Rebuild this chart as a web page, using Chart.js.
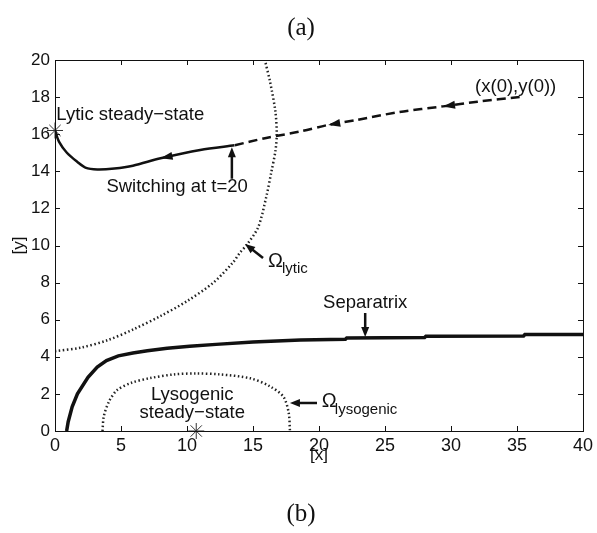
<!DOCTYPE html>
<html>
<head>
<meta charset="utf-8">
<script src="https://cdn.jsdelivr.net/npm/chart.js@4.4.0/dist/chart.umd.min.js"></script>
<style>
  html, body { margin: 0; padding: 0; background: #fff; }
</style>
</head>
<body>
<canvas id="phaseChart" width="597" height="533"></canvas>
<script>
// trajectory: dashed before the switch, solid after it
const trajDashX = [35.2, 32, 29.4, 26.1, 22.9, 20.7, 18.6, 16, 13.6];
const trajDashY = [18.0, 17.75, 17.5, 17.2, 16.77, 16.5, 16.15, 15.8, 15.4];
const trajSolidX = [13.6, 11, 8, 5.9, 4.5, 3.2, 2.3, 1.7, 0.9, 0.3, 0];
const trajSolidY = [15.4, 15.15, 14.7, 14.3, 14.15, 14.1, 14.2, 14.5, 15.0, 15.6, 16.2];

// separatrix (with the small steps at the right)
const sepX = [0.88, 1.0, 1.3, 1.7, 2.5, 3.2, 3.9, 4.8, 5.9, 7.0, 8.5, 10.2, 12.2, 15.0, 18.6, 22.0, 22.1, 28.0, 28.1, 35.5, 35.6, 40];
const sepY = [0, 0.5, 1.3, 2.0, 2.9, 3.45, 3.8, 4.05, 4.2, 4.33, 4.46, 4.57, 4.67, 4.8, 4.9, 4.95, 5.02, 5.04, 5.11, 5.12, 5.2, 5.2];

// basin boundaries
const omegaLyticX = [0, 2, 4, 6, 8, 10, 12, 13.5, 14.0, 14.6, 15.4, 16.0, 16.4, 16.7, 16.8, 16.7, 16.3, 15.9];
const omegaLyticY = [4.3, 4.5, 4.9, 5.5, 6.2, 7.0, 8.0, 9.1, 9.6, 10.1, 11.0, 12.6, 14.0, 15.1, 16.0, 17.2, 18.8, 20];
const omegaLysoX = [3.6, 3.7, 4.1, 4.7, 5.8, 7.2, 9.0, 10.7, 12.5, 14.8, 16.3, 17.3, 17.7, 17.8];
const omegaLysoY = [0, 0.8, 1.6, 2.2, 2.6, 2.85, 3.05, 3.1, 3.05, 2.84, 2.4, 1.85, 1.0, 0];

// steady states
const lyticSS = [0, 16.2];
const lysoSS = [10.7, 0];

// direction markers along the trajectory
const arrowAtX = [29.4, 20.7, 8.0];

const xTicks = [0, 5, 10, 15, 20, 25, 30, 35, 40];
const yTicks = [0, 2, 4, 6, 8, 10, 12, 14, 16, 18, 20];

const sans = '"Liberation Sans", Arial, sans-serif';
const serif = '"Liberation Serif", "DejaVu Serif", serif';

const toPoints = (xs, ys) => xs.map((x, i) => ({ x: x, y: ys[i] }));

// linear lookup of y along a path
const yOnPath = (xs, ys, x) => {
  for (let i = 0; i < xs.length - 1; i++) {
    const a = xs[i], b = xs[i + 1];
    if ((x <= a && x >= b) || (x >= a && x <= b)) {
      const t = (x - a) / (b - a);
      return ys[i] + t * (ys[i + 1] - ys[i]);
    }
  }
  return ys[ys.length - 1];
};

const drawHead = (ctx, x, y, ang, len, half) => {
  const c = Math.cos(ang), s = Math.sin(ang);
  ctx.beginPath();
  ctx.moveTo(x, y);
  ctx.lineTo(x - len * c + half * s, y - len * s - half * c);
  ctx.lineTo(x - len * c - half * s, y - len * s + half * c);
  ctx.closePath();
  ctx.fill();
};

const drawArrow = (ctx, x1, y1, x2, y2) => {
  const ang = Math.atan2(y2 - y1, x2 - x1);
  ctx.beginPath();
  ctx.moveTo(x1, y1);
  ctx.lineTo(x2 - 5 * Math.cos(ang), y2 - 5 * Math.sin(ang));
  ctx.stroke();
  drawHead(ctx, x2, y2, ang, 10, 4);
};

const annotations = {
  id: 'annotations',
  afterDatasetsDraw(chart) {
    const { ctx, chartArea: area, scales } = chart;
    const px = v => scales.x.getPixelForValue(v);
    const py = v => scales.y.getPixelForValue(v);
    ctx.save();
    ctx.fillStyle = '#111';
    ctx.strokeStyle = '#111';

    // frame and inward ticks
    ctx.lineWidth = 1;
    ctx.strokeRect(area.left + 0.5, area.top + 0.5, area.right - area.left, area.bottom - area.top);
    ctx.beginPath();
    xTicks.forEach(t => {
      const x = Math.round(px(t)) + 0.5;
      ctx.moveTo(x, area.bottom); ctx.lineTo(x, area.bottom - 5);
      ctx.moveTo(x, area.top); ctx.lineTo(x, area.top + 5);
    });
    yTicks.forEach(t => {
      const y = Math.round(py(t)) + 0.5;
      ctx.moveTo(area.left, y); ctx.lineTo(area.left + 5, y);
      ctx.moveTo(area.right, y); ctx.lineTo(area.right - 5, y);
    });
    ctx.stroke();

    // arrowheads on the trajectory
    arrowAtX.forEach(x => {
      const onDash = x > trajSolidX[0];
      const xs = onDash ? trajDashX : trajSolidX;
      const ys = onDash ? trajDashY : trajSolidY;
      const x0 = x + 0.6;
      const ang = Math.atan2(py(yOnPath(xs, ys, x)) - py(yOnPath(xs, ys, x0)), px(x) - px(x0));
      drawHead(ctx, px(x), py(yOnPath(xs, ys, x)), ang, 12, 4);
    });

    // pointer arrows
    ctx.lineWidth = 2.5;
    drawArrow(ctx, px(13.4), py(13.6), px(13.4), py(15.3));
    drawArrow(ctx, px(15.76), py(9.33), px(14.4), py(10.08));
    drawArrow(ctx, px(23.5), py(6.36), px(23.5), py(5.07));
    drawArrow(ctx, px(19.85), py(1.51), px(17.8), py(1.51));

    // labels
    ctx.textBaseline = 'middle';
    ctx.font = '18.5px ' + sans;
    ctx.textAlign = 'left';
    ctx.fillText('Lytic steady\u2212state', px(0.1), py(17.03));
    ctx.textAlign = 'center';
    ctx.fillText('Switching at t=20', px(9.25), py(13.15));
    ctx.fillText('(x(0),y(0))', px(34.9), py(18.55));
    ctx.fillText('Separatrix', px(23.5), py(6.9));
    ctx.fillText('Lysogenic', px(10.4), py(1.94));
    ctx.fillText('steady\u2212state', px(10.4), py(0.97));

    ctx.textAlign = 'left';
    ctx.textBaseline = 'alphabetic';
    ctx.font = '20px ' + sans;
    ctx.fillText('\u03A9', px(16.14), py(8.84));
    ctx.fillText('\u03A9', px(20.2), py(1.29));
    ctx.font = '15px ' + sans;
    ctx.fillText('lytic', px(17.2), py(8.52));
    ctx.fillText('lysogenic', px(21.2), py(0.92));

    // axis titles
    ctx.font = '17px ' + sans;
    ctx.textAlign = 'center';
    ctx.textBaseline = 'middle';
    ctx.fillText('[x]', px(20), area.bottom + 24);
    ctx.save();
    ctx.translate(19, (area.top + area.bottom) / 2);
    ctx.rotate(-Math.PI / 2);
    ctx.fillText('[y]', 0, 0);
    ctx.restore();

    // panel captions
    ctx.font = '25px ' + serif;
    ctx.fillText('(a)', 301, 28);
    ctx.fillText('(b)', 301, 514);
    ctx.restore();
  }
};

new Chart(document.getElementById('phaseChart'), {
  type: 'scatter',
  data: {
    datasets: [
      {
        data: toPoints(omegaLyticX, omegaLyticY),
        showLine: true, borderColor: '#222', borderWidth: 2.5,
        borderDash: [1.5, 2.5], pointRadius: 0, tension: 0.3,
      },
      {
        data: toPoints(omegaLysoX, omegaLysoY),
        showLine: true, borderColor: '#222', borderWidth: 2.5,
        borderDash: [1.5, 2.5], pointRadius: 0, tension: 0.3,
      },
      {
        data: toPoints(sepX, sepY),
        showLine: true, borderColor: '#111', borderWidth: 3.5,
        pointRadius: 0, tension: 0,
      },
      {
        data: toPoints(trajDashX, trajDashY),
        showLine: true, borderColor: '#111', borderWidth: 2.5,
        borderDash: [9, 5], pointRadius: 0, tension: 0.3,
      },
      {
        data: toPoints(trajSolidX, trajSolidY),
        showLine: true, borderColor: '#111', borderWidth: 2.5,
        pointRadius: 0, tension: 0.3,
      },
      {
        data: [{ x: lyticSS[0], y: lyticSS[1] }, { x: lysoSS[0], y: lysoSS[1] }],
        showLine: false, pointStyle: 'star', pointRadius: 8,
        borderColor: '#333', borderWidth: 1, clip: false,
      },
    ],
  },
  options: {
    responsive: false,
    animation: false,
    layout: { padding: { top: 60, right: 13, bottom: 0, left: 0 } },
    plugins: { legend: { display: false }, tooltip: { enabled: false } },
    scales: {
      x: {
        type: 'linear', min: 0, max: 40,
        afterFit: scale => { scale.height = 102; },
        afterBuildTicks: scale => { scale.ticks = xTicks.map(v => ({ value: v })); },
        grid: { display: false, drawTicks: false },
        border: { display: false },
        ticks: { color: '#111', padding: 4, font: { family: sans, size: 18 } },
      },
      y: {
        type: 'linear', min: 0, max: 20,
        afterFit: scale => { scale.width = 55; },
        afterBuildTicks: scale => { scale.ticks = yTicks.map(v => ({ value: v })); },
        grid: { display: false, drawTicks: false },
        border: { display: false },
        ticks: { color: '#111', padding: 5, font: { family: sans, size: 17 } },
      },
    },
  },
  plugins: [annotations],
});
</script>
</body>
</html>
